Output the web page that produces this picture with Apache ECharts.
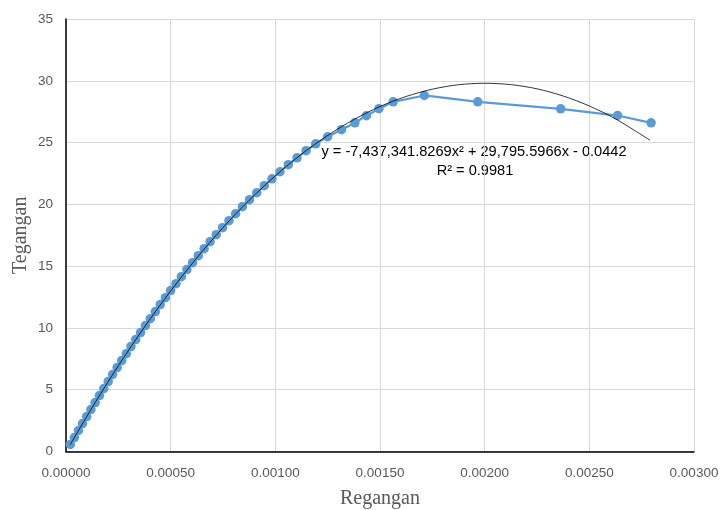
<!DOCTYPE html>
<html>
<head>
<meta charset="utf-8">
<script src="https://cdn.jsdelivr.net/npm/echarts@6/dist/echarts.min.js"></script>
<style>html,body{margin:0;padding:0;background:#fff;}#chart{width:721px;height:510px;}</style>
</head>
<body>
<div id="chart"></div>
<script>
// Measured points (strain, stress)
var strain = [0.0000206, 0.0000399, 0.0000594, 0.0000790, 0.0000989, 0.0001190, 0.0001393, 0.0001598, 0.0001806, 0.0002016,
  0.0002228, 0.0002443, 0.0002661, 0.0002882, 0.0003105, 0.0003331, 0.0003561, 0.0003793, 0.0004029, 0.0004269,
  0.0004502, 0.0004749, 0.0004999, 0.0005254, 0.0005513, 0.0005776, 0.0006045, 0.0006320, 0.0006600, 0.0006886,
  0.0007178, 0.0007478, 0.0007786, 0.0008102, 0.0008428, 0.0008765, 0.0009112, 0.0009470, 0.0009840, 0.0010222,
  0.0010620, 0.0011035, 0.0011470, 0.0011930, 0.0012500, 0.0013160, 0.0013800, 0.0014350, 0.0014950, 0.0015630,
  0.001712, 0.001967, 0.002363, 0.002635, 0.002795];
var stress = [0.57, 1.13, 1.70, 2.26, 2.83, 3.40, 3.96, 4.53, 5.09, 5.66,
  6.23, 6.79, 7.36, 7.92, 8.49, 9.06, 9.62, 10.19, 10.75, 11.32,
  11.89, 12.45, 13.02, 13.58, 14.15, 14.72, 15.28, 15.85, 16.41, 16.98,
  17.55, 18.11, 18.68, 19.24, 19.81, 20.38, 20.94, 21.51, 22.07, 22.64,
  23.21, 23.77, 24.34, 24.90, 25.47, 26.04, 26.60, 27.17, 27.74, 28.30,
  28.81, 28.30, 27.73, 27.19, 26.60];

// Trendline points
var trendX = [0.00002, 0.000125, 0.00025, 0.000375, 0.0005, 0.000625, 0.00075, 0.000875, 0.001, 0.001125, 0.00125, 0.001375,
  0.0015, 0.001625, 0.00175, 0.001875, 0.002, 0.002125, 0.00225, 0.002375, 0.0025, 0.002625, 0.00279];
var trendY = [0.55, 3.56, 6.94, 10.08, 12.99, 15.67, 18.12, 20.33, 22.31, 24.06, 25.58, 26.86,
  27.92, 28.73, 29.32, 29.68, 29.80, 29.69, 29.35, 28.77, 27.96, 26.92, 25.19];

var xTicks = ['0.00000','0.00050','0.00100','0.00150','0.00200','0.00250','0.00300'];
var yTicks = ['0','5','10','15','20','25','30','35'];
var xName = 'Regangan';
var yName = 'Tegangan';
var eqText = 'y = -7,437,341.8269x\u00B2 + 29,795.5966x - 0.0442';
var r2Text = 'R\u00B2 = 0.9981';

var dataPts = strain.map(function(x, i){ return [x, stress[i]]; });
var trendPts = trendX.map(function(x, i){ return [x, trendY[i]]; });

var chart = echarts.init(document.getElementById('chart'), null, {renderer:'canvas'});
chart.setOption({
  animation: false,
  backgroundColor: '#ffffff',
  grid: {left: 66, right: 27, top: 19, bottom: 58.5, containLabel: false, outerBoundsMode: 'none'},
  xAxis: {
    type: 'value', min: 0, max: 0.003, interval: 0.0005,
    name: xName, nameLocation: 'middle', nameGap: 37,
    nameTextStyle: {fontFamily: 'Liberation Serif', fontSize: 20, color: '#595959'},
    axisLine: {show: true, onZero: false, lineStyle: {color: '#000', width: 1.5}},
    axisTick: {show: false},
    axisLabel: {margin: 15, color: '#595959', fontFamily: 'Liberation Sans', fontSize: 13.5,
      formatter: function(v){ var i = Math.round(v / 0.0005); return xTicks[i] !== undefined ? xTicks[i] : ''; }},
    splitLine: {show: true, lineStyle: {color: '#d9d9d9', width: 1}}
  },
  yAxis: {
    type: 'value', min: 0, max: 35, interval: 5,
    name: yName, nameLocation: 'middle', nameGap: 35, nameMoveOverlap: false,
    nameTextStyle: {fontFamily: 'Liberation Serif', fontSize: 20, color: '#595959'},
    axisLine: {show: true, onZero: false, lineStyle: {color: '#000', width: 1.5}},
    axisTick: {show: false},
    axisLabel: {margin: 13, color: '#595959', fontFamily: 'Liberation Sans', fontSize: 13.5,
      formatter: function(v){ var i = Math.round(v / 5); return yTicks[i] !== undefined ? yTicks[i] : ''; }},
    splitLine: {show: true, lineStyle: {color: '#d9d9d9', width: 1}}
  },
  series: [
    {
      type: 'line', data: dataPts, z: 2,
      lineStyle: {color: '#5B9BD5', width: 2.25},
      symbol: 'circle', symbolSize: 9.5,
      itemStyle: {color: '#5B9BD5'}
    },
    {
      type: 'line', data: trendPts, z: 3, smooth: 0.3,
      showSymbol: false, symbol: 'none',
      lineStyle: {color: '#000', width: 0.8}
    }
  ],
  graphic: [
    {type: 'text', x: 474, y: 152, style: {text: eqText, align: 'center', verticalAlign: 'middle', fontFamily: 'Liberation Sans', fontSize: 14.6, fill: '#000'}},
    {type: 'text', x: 475, y: 171, style: {text: r2Text, align: 'center', verticalAlign: 'middle', fontFamily: 'Liberation Sans', fontSize: 14.6, fill: '#000'}}
  ]
});
</script>
</body>
</html>
